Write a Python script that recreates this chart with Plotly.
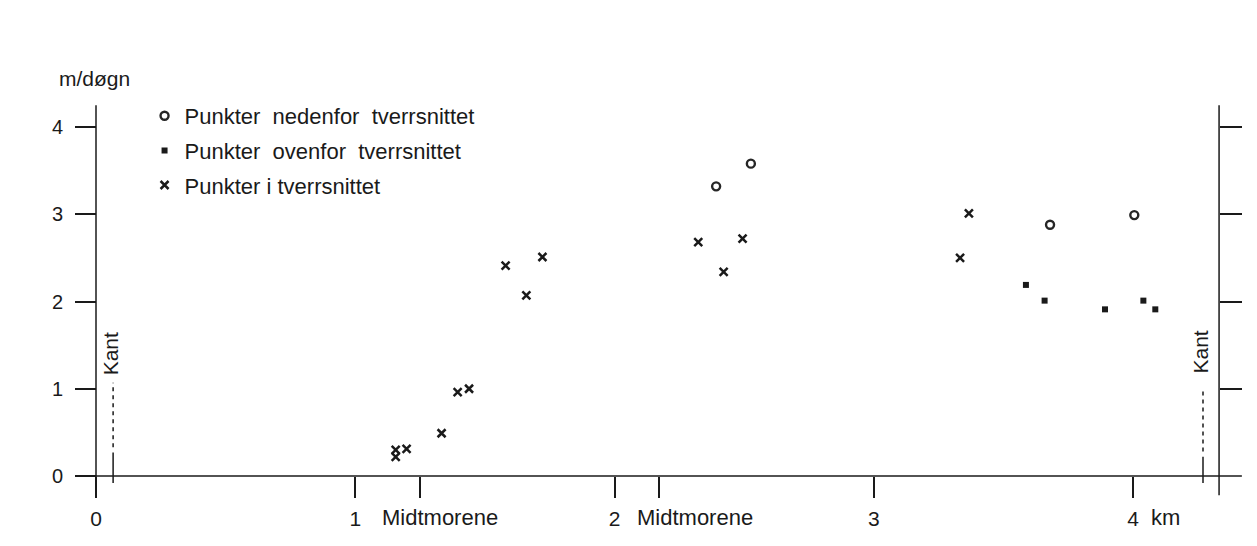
import plotly.graph_objects as go

# Surface velocity across the glacier profile (km from edge, m/døgn)
below_km = [2.392, 2.526, 3.680, 4.005]
below_v = [3.32, 3.58, 2.88, 2.99]

above_km = [3.587, 3.659, 3.892, 4.040, 4.086]
above_v = [2.19, 2.01, 1.91, 2.01, 1.91]

cross_km = [1.156, 1.156, 1.198, 1.333, 1.395, 1.439, 1.580, 1.660, 1.722,
            2.323, 2.421, 2.494, 3.333, 3.367]
cross_v = [0.30, 0.22, 0.31, 0.49, 0.96, 1.00, 2.41, 2.07, 2.51,
           2.68, 2.34, 2.72, 2.50, 3.01]

x_tickvals = [0, 1, 1.25, 2, 2.172, 3, 4]
x_ticktext = ["0", "1", "", "2", "", "3", "4"]
y_tickvals = [0, 1, 2, 3, 4]

edge_left_km = 0.066
edge_right_km = 4.27
right_axis_km = 4.332
moraine_label_km = [1.327, 2.311]

INK = "#1a1a1a"
FONT = "Liberation Sans, Arial, Helvetica, sans-serif"

W, H = 1257, 546
X_RANGE = [-96 / 259.25, (W - 96) / 259.25]
Y_RANGE = [-(H - 476) / 87.25, 476 / 87.25]

fig = go.Figure()

fig.add_trace(go.Scatter(
    x=below_km, y=below_v, mode="markers", name="Punkter  nedenfor  tverrsnittet",
    marker=dict(symbol="circle-open", size=8, color="#262626", line=dict(width=2.4)),
    legendgroup="a",
))
fig.add_trace(go.Scatter(
    x=above_km, y=above_v, mode="markers", name="Punkter  ovenfor  tverrsnittet",
    marker=dict(symbol="square", size=6, color=INK),
    legendgroup="b",
))
fig.add_trace(go.Scatter(
    x=cross_km, y=cross_v, mode="markers", name="Punkter i tverrsnittet",
    marker=dict(symbol="x-thin-open", size=8, color=INK, line=dict(width=2.5)),
    legendgroup="c",
))
# invisible trace carrying the right-hand tick axis
fig.add_trace(go.Scatter(x=[0], y=[0], yaxis="y2", mode="markers",
                         marker=dict(opacity=0), showlegend=False, hoverinfo="skip"))

line_style = dict(color=INK, width=1.5)
# axis lines
fig.add_shape(type="line", x0=-0.073, x1=4.42, y0=0, y1=0, line=line_style)
fig.add_shape(type="line", x0=0, x1=0, y0=-0.24, y1=4.25, line=line_style)
fig.add_shape(type="line", x0=right_axis_km, x1=right_axis_km, y0=-0.22, y1=4.25, line=line_style)

# glacier edge markers ("Kant")
for xk, top, solid_top in [(edge_left_km, 1.07, 0.27), (edge_right_km, 0.99, 0.22)]:
    fig.add_shape(type="line", x0=xk, x1=xk, y0=solid_top + 0.06, y1=top,
                  line=dict(color=INK, width=1.5, dash="4px,4px"))
    fig.add_shape(type="line", x0=xk, x1=xk, y0=-0.08, y1=solid_top, line=line_style)

annotations = [
    dict(x=edge_left_km - 0.01, y=1.40, text="Kant", textangle=-90, size=21),
    dict(x=edge_right_km - 0.01, y=1.42, text="Kant", textangle=-90, size=21),
    dict(x=moraine_label_km[0], y=-0.48, text="Midtmorene", size=22),
    dict(x=moraine_label_km[1], y=-0.48, text="Midtmorene", size=22),
    dict(x=4.127, y=-0.48, text="km", size=22),
    dict(x=-0.004, y=4.56, text="m/døgn", size=21),
]
for a in annotations:
    size = a.pop("size")
    fig.add_annotation(xref="x", yref="y", showarrow=False, xanchor="center", yanchor="middle",
                       font=dict(family=FONT, size=size, color=INK), **a)

fig.update_layout(
    width=W, height=H,
    margin=dict(l=0, r=0, t=0, b=0),
    paper_bgcolor="white", plot_bgcolor="white",
    font=dict(family=FONT, color=INK),
    showlegend=True,
    legend=dict(
        x=0.115, y=1 - 95 / H, xanchor="left", yanchor="top",
        font=dict(family=FONT, size=22, color=INK),
        bgcolor="rgba(0,0,0,0)", itemwidth=30, tracegroupgap=3,
        traceorder="grouped",
    ),
    xaxis=dict(
        domain=[0, 1], range=X_RANGE, anchor="free", position=(H - 476) / H,
        showgrid=False, zeroline=False, showline=False,
        ticks="outside", ticklen=21, tickwidth=1.5, tickcolor=INK,
        tickvals=x_tickvals, ticktext=x_ticktext,
        tickfont=dict(family=FONT, size=21, color=INK),
        ticklabelstandoff=3,
    ),
    yaxis=dict(
        domain=[0, 1], range=Y_RANGE, anchor="free", position=96 / W,
        showgrid=False, zeroline=False, showline=False,
        ticks="outside", ticklen=21, tickwidth=1.5, tickcolor=INK,
        tickvals=y_tickvals,
        tickfont=dict(family=FONT, size=20, color=INK),
        ticklabelstandoff=8,
    ),
    yaxis2=dict(
        overlaying="y", side="right", range=Y_RANGE, anchor="free", position=1219 / W,
        showgrid=False, zeroline=False, showline=False,
        ticks="outside", ticklen=22, tickwidth=1.5, tickcolor=INK,
        tickvals=[1, 2, 3, 4], showticklabels=False,
    ),
)

fig.write_html("out.html")
